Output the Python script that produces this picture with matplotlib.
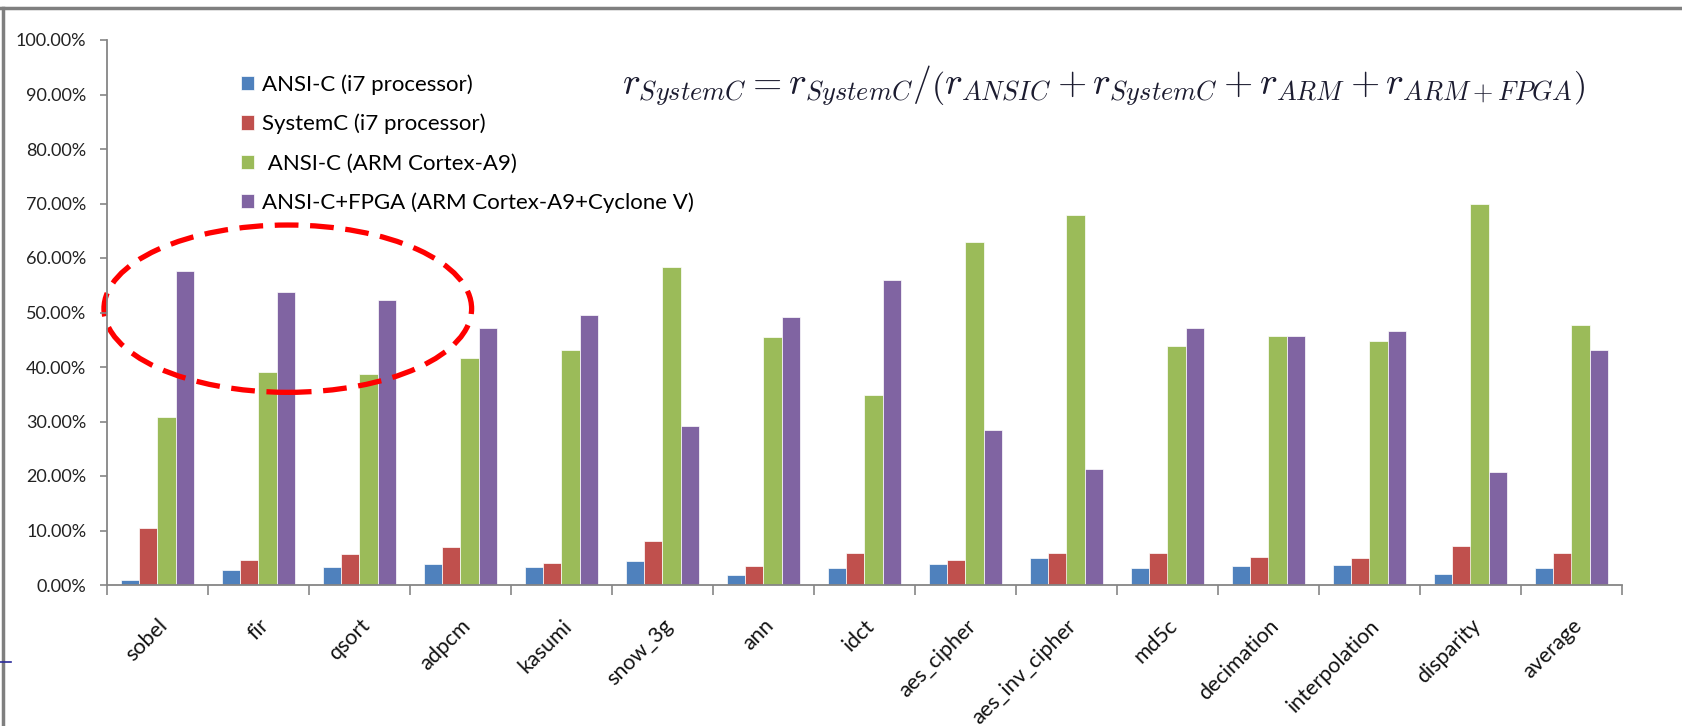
import numpy as np
import matplotlib.pyplot as plt
from matplotlib.patches import Ellipse
from matplotlib.lines import Line2D

plt.rcParams['font.family'] = ['Lato', 'DejaVu Sans']
plt.rcParams['mathtext.fontset'] = 'cm'

# benchmarks and share of runtime per platform (percent)
benchmarks = ["sobel", "fir", "qsort", "adpcm", "kasumi", "snow_3g", "ann", "idct",
              "aes_cipher", "aes_inv_cipher", "md5c", "decimation", "interpolation",
              "disparity", "average"]
ansic_i7 = [0.9, 2.7, 3.3, 3.8, 3.3, 4.4, 1.8, 3.1, 3.8, 5.0, 3.1, 3.5, 3.7, 2.0, 3.1]
systemc_i7 = [10.5, 4.6, 5.7, 7.0, 4.0, 8.0, 3.5, 5.9, 4.6, 5.9, 5.9, 5.1, 5.0, 7.2, 5.9]
ansic_arm = [30.8, 39.1, 38.7, 41.7, 43.1, 58.4, 45.5, 34.8, 62.9, 67.8, 43.9, 45.7, 44.7, 70.0, 47.7]
fpga_arm = [57.7, 53.8, 52.3, 47.2, 49.6, 29.2, 49.2, 56.0, 28.4, 21.3, 47.2, 45.7, 46.6, 20.7, 43.2]

series = [ansic_i7, systemc_i7, ansic_arm, fpga_arm]
labels = ["ANSI-C (i7 processor)", "SystemC (i7 processor)", " ANSI-C (ARM Cortex-A9)",
          "ANSI-C+FPGA (ARM Cortex-A9+Cyclone V)"]
colors = ["#4F81BD", "#C0504D", "#9BBB59", "#8064A2"]

fig = plt.figure(figsize=(16.83, 7.26), dpi=100)
ax = fig.add_axes([107 / 1683, 1 - 585 / 726, 1515 / 1683, 545 / 726])

x = np.arange(len(benchmarks))
w = 0.182
for i, (vals, lab, col) in enumerate(zip(series, labels, colors)):
    ax.bar(x + (i - 1.5) * w, vals, width=w, color=col, label=lab,
           edgecolor="white", linewidth=0.5)

ax.set_xlim(-0.5, len(benchmarks) - 0.5)
ax.set_ylim(0, 100)
ax.set_yticks(np.arange(0, 101, 10))
ax.set_yticklabels(["%.2f%%" % v for v in np.arange(0, 101, 10)], fontsize=13, color="#222222")

# ticks between categories, labels at the centres
ax.set_xticks(np.arange(len(benchmarks) + 1) - 0.5)
ax.set_xticklabels([])
ax.set_xticks(x, minor=True)
ax.set_xticklabels(benchmarks, minor=True, rotation=45, ha="right",
                   rotation_mode="anchor", fontsize=15.5, color="#111111")
ax.tick_params(axis="x", which="minor", length=0, pad=22)
ax.tick_params(axis="x", which="major", length=7, color="#868686", width=1.2)
ax.tick_params(axis="y", length=5, color="#868686", width=1.2, pad=10)

for s in ["top", "right"]:
    ax.spines[s].set_visible(False)
for s in ["left", "bottom"]:
    ax.spines[s].set_color("#868686")
    ax.spines[s].set_linewidth(1.3)

leg = fig.legend(loc="upper left", bbox_to_anchor=(241 / 1683, 1 - 74 / 726),
                 frameon=False, fontsize=16, handlelength=0.6, handleheight=0.6,
                 handletextpad=0.35, labelspacing=0.86, borderpad=0, borderaxespad=0)

# highlight of the first three benchmarks
ell = Ellipse((1.29, 50.7), 3.64, 30.7, fill=False, edgecolor="#FF0000",
              linewidth=3.8, linestyle=(0, (4.5, 2.2)), clip_on=False)
ax.add_patch(ell)

fig.text(622 / 1683, 1 - 86 / 726,
         r"$r_{SystemC}=r_{SystemC}/\left(r_{ANSIC}+r_{SystemC}+r_{ARM}+r_{ARM+FPGA}\right)$",
         fontsize=27, ha="left", va="center", color="#1c1c30")

# window frame
fig.add_artist(Line2D([0, 1], [1 - 8 / 726] * 2, color="#7f7f7f", linewidth=2.5))
fig.add_artist(Line2D([3 / 1683] * 2, [0, 1 - 8 / 726], color="#7f7f7f", linewidth=2.5))
fig.add_artist(Line2D([0, 11 / 1683], [1 - 662 / 726] * 2, color="#2a2a9a", linewidth=1.2))

fig.savefig("out.png", dpi=100)
